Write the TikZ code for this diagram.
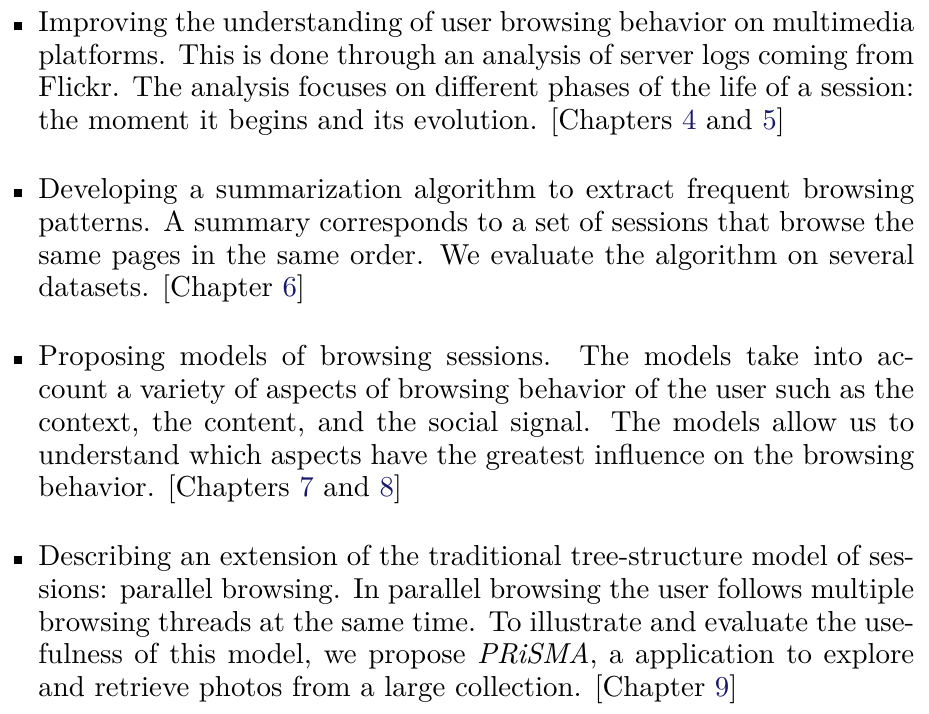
\documentclass[tikz,border=0pt]{standalone}
\usepackage{xcolor}
\definecolor{reflink}{rgb}{0.1,0.1,0.42}
\newcommand{\chref}[1]{\textcolor{reflink}{#1}}
\newcommand{\itembox}{\noindent\llap{\raisebox{0.5pt}{\rule{2.8pt}{2.8pt}}\hspace{5.8pt}}}
\begin{document}
\begin{tikzpicture}[x=1pt,y=1pt,
  listtext/.style={inner sep=0pt, outer sep=0pt, anchor=base west}]
\useasboundingbox (0,0) rectangle (321.8,-247.0);
\node[listtext] (contrib) at (13.3,-10.9) {%
\begin{minipage}[t]{303.4pt}
\fontsize{10pt}{11.33pt}\selectfont
\parindent=0pt
\parskip=12.6pt
\itembox Improving the understanding of user browsing behavior on multimedia platforms. This is done through an analysis of server logs coming from Flickr. The analysis focuses on different phases of the life of a session: the moment it begins and its evolution. [Chapters \chref{4} and \chref{5}]\par
\itembox Developing a summarization algorithm to extract frequent browsing patterns. A summary corresponds to a set of sessions that browse the same pages in the same order. We evaluate the algorithm on several datasets. [Chapter \chref{6}]\par
\itembox Proposing models of browsing sessions. The models take into ac-\linebreak count a variety of aspects of browsing behavior of the user such as the \linebreak context, the content, and the social signal. The models allow us to \linebreak understand which aspects have the greatest influence on the browsing \linebreak behavior. [Chapters \chref{7} and \chref{8}]\par
\itembox Describing an extension of the traditional tree-structure model of sessions: parallel browsing. In parallel browsing the user follows multiple browsing threads at the same time. To illustrate and evaluate the usefulness of this model, we propose \textit{PRiSMA}, a application to explore and retrieve photos from a large collection. [Chapter \chref{9}]\par
\end{minipage}};
\end{tikzpicture}
\end{document}
